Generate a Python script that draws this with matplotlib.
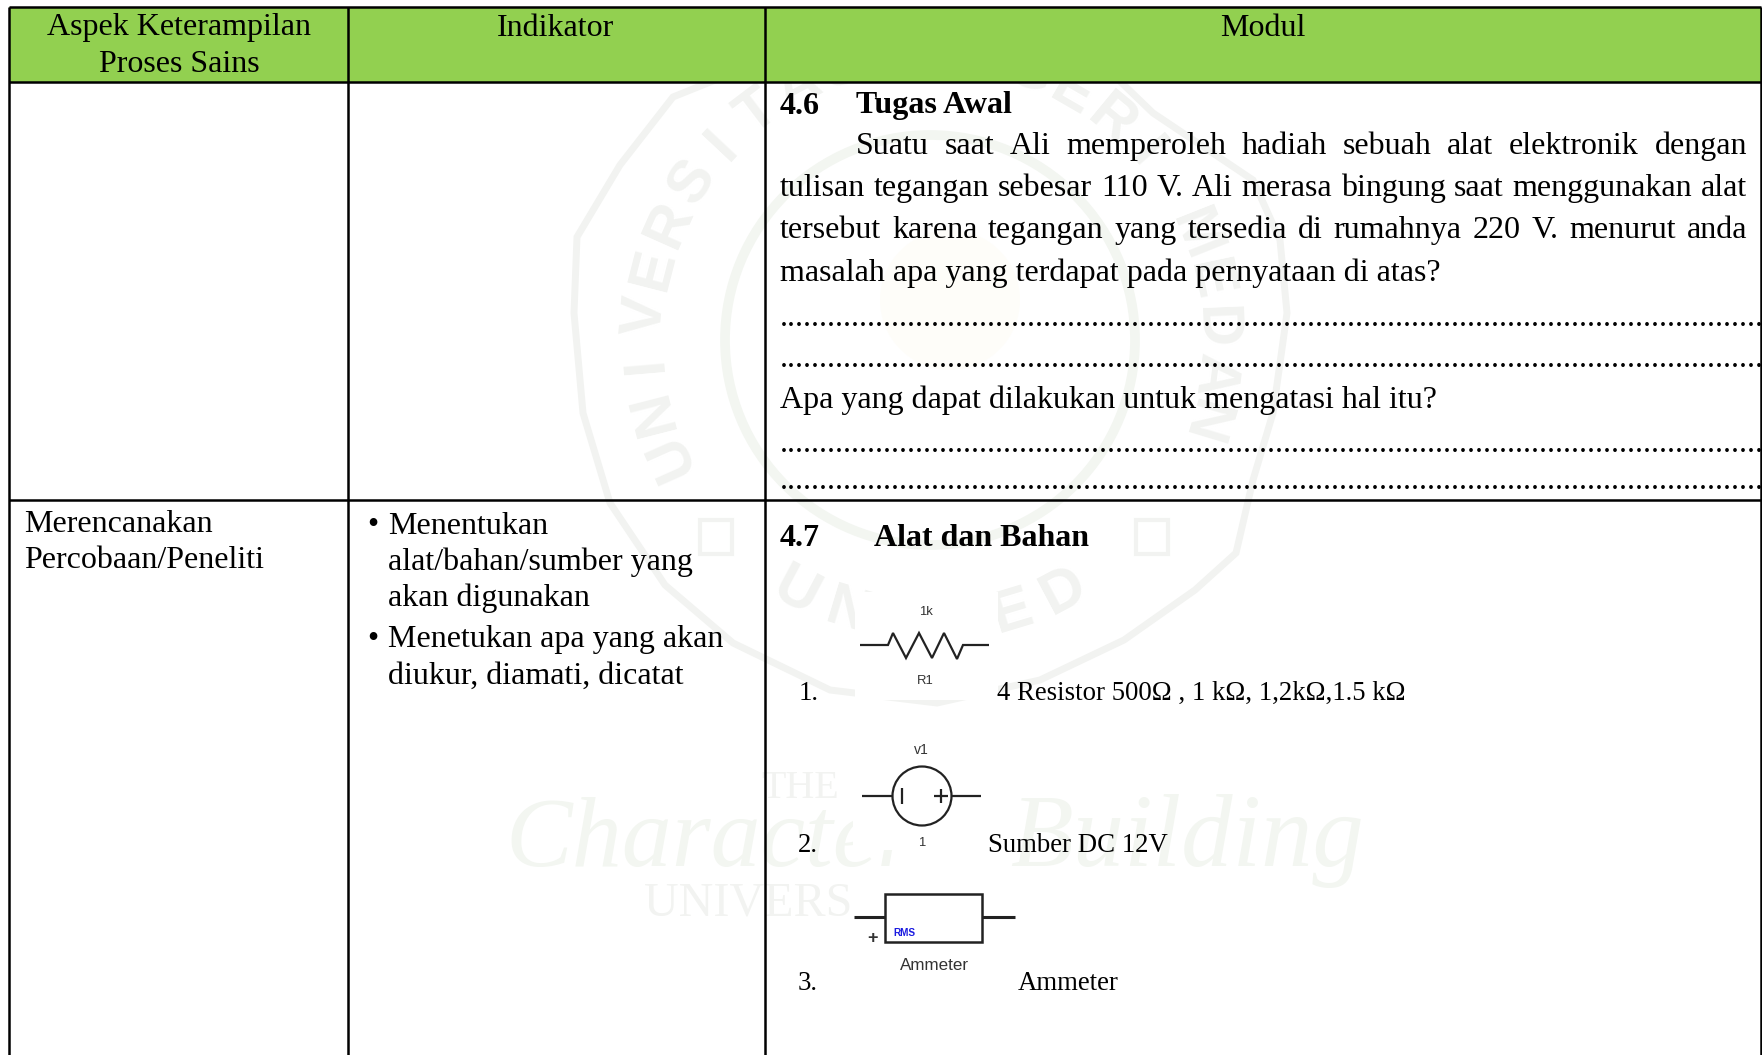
import numpy as np
import matplotlib
matplotlib.use("Agg")
import matplotlib.pyplot as plt
from matplotlib.patches import Rectangle, Circle

W, H = 1762, 1055
SERIF = "Liberation Serif"
SANS = "Liberation Sans"
GREEN = "#92D050"
MARK = "#f2f3f1"
MARK_GREEN = "#f3f6f1"
BODY = 32
Z_MARK = 0.2
Z_CLIP = 0.5

header_labels = ["Aspek Keterampilan\nProses Sains", "Indikator", "Modul"]
aspek_rows = ["Merencanakan", "Percobaan/Peneliti"]
indikator_rows = ["Menentukan", "alat/bahan/sumber yang", "akan digunakan",
                  "Menetukan apa yang akan", "diukur, diamati, dicatat"]
tugas_lines = ["Suatu saat Ali memperoleh hadiah sebuah alat elektronik dengan",
               "tulisan tegangan sebesar 110 V. Ali merasa bingung saat menggunakan alat",
               "tersebut karena tegangan yang tersedia di rumahnya 220 V. menurut anda",
               "masalah apa yang terdapat pada pernyataan di atas?"]
tugas_question = "Apa yang dapat dilakukan untuk mengatasi hal itu?"
alat_items = ["4 Resistor 500Ω , 1 kΩ, 1,2kΩ,1.5 kΩ", "Sumber DC 12V", "Ammeter"]
seal_top = "UNIVERSITAS NEGERI MEDAN"
seal_bottom = "UNIMED"

fig = plt.figure(figsize=(W / 100, H / 100), dpi=100)
ax = fig.add_axes([0, 0, 1, 1])
ax.set_xlim(0, W)
ax.set_ylim(H, 0)
ax.axis("off")


def txt(x, y, s, px=BODY, weight="normal", ha="left", va="center", color="black", family=SERIF, **kw):
    return ax.text(x, y, s, fontsize=px * 0.72, family=family, weight=weight,
                   ha=ha, va=va, color=color, **kw)


def justified(x0, x1, y, line, px=BODY):
    # spread the words so the line runs from x0 to x1
    words = line.split(" ")
    r = fig.canvas.get_renderer()
    arts = [txt(0, y, w, px=px, va="baseline") for w in words]
    widths = [a.get_window_extent(r).width for a in arts]
    gap = (x1 - x0 - sum(widths)) / (len(words) - 1)
    x = x0
    for a, w in zip(arts, widths):
        a.set_x(x)
        x += w + gap


def seq(points, lw=2.0, color="#222222", zorder=2):
    xs, ys = zip(*points)
    ax.plot(xs, ys, color=color, lw=lw, solid_joinstyle="miter", solid_capstyle="butt", zorder=zorder)


# watermark first, low zorder so the table and clip art cover it
seal_x, seal_y, seal_r = 930, 340, 285
for i, ch in enumerate(seal_top):
    if ch == " ":
        continue
    ang = 156 + 9.6 * i
    a = np.deg2rad(ang)
    ax.text(seal_x + seal_r * np.cos(a), seal_y + seal_r * np.sin(a), ch,
            fontsize=43, family=SANS, weight="bold", color=MARK, ha="center", va="center",
            rotation=-ang - 90, rotation_mode="anchor", zorder=Z_MARK)
for i, ch in enumerate(seal_bottom):
    ang = 118 - 11.2 * i
    a = np.deg2rad(ang)
    ax.text(seal_x + seal_r * np.cos(a), seal_y + seal_r * np.sin(a), ch,
            fontsize=43, family=SANS, weight="bold", color=MARK, ha="center", va="center",
            rotation=-ang + 90, rotation_mode="anchor", zorder=Z_MARK)

# shield outline and inner ring of the seal
outline = [(760, 62), (673, 97), (620, 165), (577, 237), (574, 313), (583, 413), (610, 503),
           (665, 585), (733, 643), (830, 690), (937, 703), (1040, 680), (1124, 640),
           (1195, 590), (1236, 553), (1253, 480), (1273, 413), (1287, 313), (1280, 240),
           (1253, 180), (1153, 113), (1100, 62)]
seq(outline, lw=5, color=MARK, zorder=Z_MARK)
ax.add_patch(Circle((seal_x, seal_y), 205, fill=False, ec=MARK_GREEN, lw=7, zorder=Z_MARK))
ax.add_patch(Circle((950, 300), 70, fc="#fefdf9", ec="none", zorder=Z_MARK))
for x in (700, 1136):
    ax.add_patch(Rectangle((x, 520), 32, 34, fill=False, ec=MARK, lw=3, zorder=Z_MARK))

ax.text(505, 866, "Character", fontsize=72, family=SERIF, style="italic", color=MARK_GREEN,
        ha="left", va="baseline", zorder=Z_MARK)
ax.text(1010, 866, "Building", fontsize=74, family=SERIF, style="italic", color=MARK_GREEN,
        ha="left", va="baseline", zorder=Z_MARK)
txt(800, 788, "THE", px=40, color=MARK, ha="center", zorder=Z_MARK)
txt(644, 904, "UNIVERS", px=48, color=MARK, zorder=Z_MARK)

# white backgrounds of the pasted clip art
for x, y, w, h in ((855, 592, 143, 108), (853, 735, 133, 115), (853, 885, 167, 118)):
    ax.add_patch(Rectangle((x, y), w, h, fc="white", ec="none", zorder=Z_CLIP))

# table
col_x = [9, 348, 765, 1761]
top, head_bot, row_y = 7, 82, 500
ax.add_patch(Rectangle((col_x[0], top), col_x[3] - col_x[0], head_bot - top, fc=GREEN, ec="none"))
for x in col_x:
    ax.plot([x, x], [top, H], color="black", lw=1.8, solid_capstyle="butt")
for y in (top, head_bot, row_y):
    ax.plot([col_x[0], col_x[3]], [y, y], color="black", lw=1.8, solid_capstyle="butt")

# header
first, second = header_labels[0].split("\n")
txt(179, 28, first, ha="center")
txt(179, 65, second, ha="center")
txt(556, 28, header_labels[1], ha="center")
txt(1263, 28, header_labels[2], ha="center")

# left columns
for s, y in zip(aspek_rows, (524, 560)):
    txt(24, y, s)
for s, y in zip(indikator_rows, (526, 562, 598, 639, 676)):
    txt(388, y, s)
txt(367, 526, "•")
txt(367, 639, "•")

# tugas awal
txt(780, 106, "4.6", weight="bold")
txt(856, 106, "Tugas Awal", weight="bold")
justified(856, 1747, 154, tugas_lines[0])
justified(780, 1747, 196, tugas_lines[1])
justified(780, 1747, 238, tugas_lines[2])
txt(780, 281, tugas_lines[3], va="baseline")
txt(780, 408, tugas_question, va="baseline")
dots = "." * 123
for y in (326, 367, 452, 489):
    t = txt(780, y, dots, va="baseline")
    t.set_clip_path(Rectangle((765, 0), 996, H, transform=ax.transData))

# alat dan bahan
txt(780, 538, "4.7", weight="bold")
txt(874, 538, "Alat dan Bahan", weight="bold")

# 1. resistor
seq([(860, 645), (888, 645), (893, 633), (906, 658), (919, 633), (932, 658), (944, 633),
     (957, 659), (963, 645), (989, 645)], lw=1.6)
txt(926, 612, "1k", px=13, ha="center", color="#333333", family=SANS)
txt(925, 681, "R1", px=13, ha="center", color="#333333", family=SANS)
txt(799, 693, "1.", px=26.7)
txt(997, 693, alat_items[0], px=26.7)

# 2. voltage source
ax.add_patch(Circle((922, 796), 29.5, fill=False, ec="#222222", lw=1.6))
seq([(862, 796), (893, 796)], lw=1.6)
seq([(952, 796), (981, 796)], lw=1.6)
seq([(902, 788), (902, 804)], lw=1.6)
seq([(934, 796), (948, 796)], lw=1.6)
seq([(941, 789), (941, 803)], lw=1.6)
txt(921, 750, "v1", px=14, ha="center", color="#333333", family=SANS)
txt(922, 843, "1", px=13, ha="center", color="#333333", family=SANS)
txt(798, 845, "2.", px=26.7)
txt(988, 845, alat_items[1], px=26.7)

# 3. ammeter
ax.add_patch(Rectangle((885, 894), 97, 48, fill=False, ec="#222222", lw=1.8))
seq([(854, 917), (885, 917)], lw=2.2)
seq([(982, 917), (1015, 917)], lw=2.2)
txt(872, 938, "+", px=18, ha="center", weight="bold", color="#333333", family=SANS)
txt(904, 933, "RMS", px=10, ha="center", weight="bold", color="#1a1ae0", family=SANS)
txt(934, 966, "Ammeter", px=17, ha="center", color="#333333", family=SANS)
txt(798, 984, "3.", px=26.7)
txt(1018, 984, alat_items[2], px=26.7)

fig.savefig("out.png", dpi=100, facecolor="white")
